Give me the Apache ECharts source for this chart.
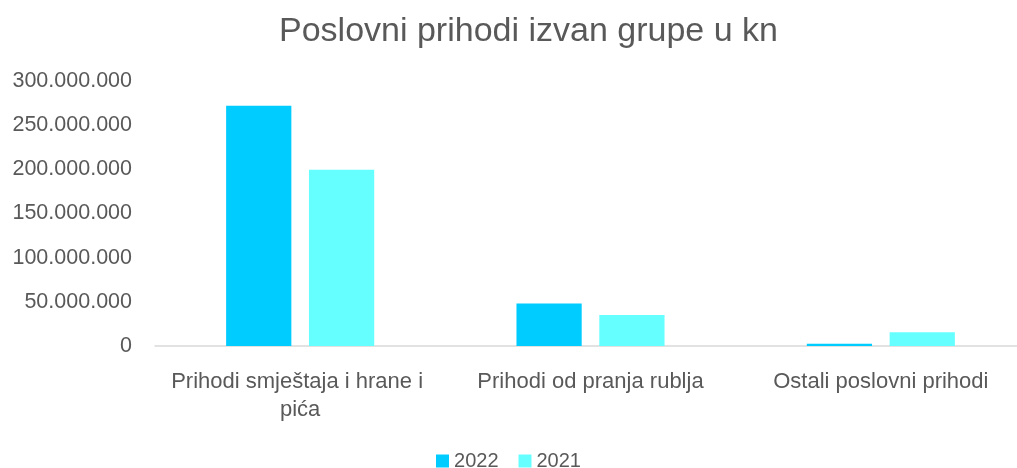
<!DOCTYPE html>
<html>
<head>
<meta charset="utf-8">
<script src="https://cdn.jsdelivr.net/npm/echarts@6/dist/echarts.min.js"></script>
<style>
  html, body { margin: 0; padding: 0; background: #fff; }
  #chart { width: 1017px; height: 468px; }
</style>
</head>
<body>
<div id="chart"></div>
<script>
var categories = ['Prihodi smještaja i hrane i pića', 'Prihodi od pranja rublja', 'Ostali poslovni prihodi']
var values2022 = [272000000, 48000000, 2500000]
var values2021 = [199500000, 35000000, 15500000]

var font = "'Liberation Sans', 'DejaVu Sans', sans-serif"
var textColor = '#595959'

function fmt(v) {
  return String(v).replace(/\B(?=(\d{3})+(?!\d))/g, '.')
}

var chart = echarts.init(document.getElementById('chart'))
chart.setOption({
  animation: false,
  title: {
    text: 'Poslovni prihodi izvan grupe u kn',
    left: 274,
    top: 10,
    textStyle: { fontFamily: font, fontSize: 34, fontWeight: 'normal', color: textColor }
  },
  legend: {
    data: ['2022', '2021'],
    top: 446,
    left: 'center',
    icon: 'rect',
    itemWidth: 13,
    itemHeight: 13,
    itemGap: 20,
    textStyle: { fontFamily: font, fontSize: 20, color: textColor }
  },
  grid: {
    left: 155,
    right: -9,
    top: 81,
    bottom: 122,
    outerBoundsMode: 'none'
  },
  xAxis: {
    type: 'category',
    data: categories,
    axisLine: { lineStyle: { color: '#d9d9d9', width: 1.5 } },
    axisTick: { show: false },
    axisLabel: {
      margin: 22,
      fontFamily: font,
      fontSize: 22,
      color: textColor,
      lineHeight: 28,
      width: 285,
      overflow: 'break',
      interval: 0
    }
  },
  yAxis: {
    type: 'value',
    min: 0,
    max: 300000000,
    interval: 50000000,
    splitLine: { show: false },
    axisLine: { show: false },
    axisTick: { show: false },
    axisLabel: {
      margin: 23,
      fontFamily: font,
      fontSize: 21.5,
      color: textColor,
      formatter: fmt
    }
  },
  series: [
    {
      name: '2022',
      type: 'bar',
      data: values2022,
      barGap: '27%',
      barCategoryGap: '49%',
      itemStyle: { color: '#00ccff' }
    },
    {
      name: '2021',
      type: 'bar',
      data: values2021,
      itemStyle: { color: '#66ffff' }
    }
  ]
})
</script>
</body>
</html>
